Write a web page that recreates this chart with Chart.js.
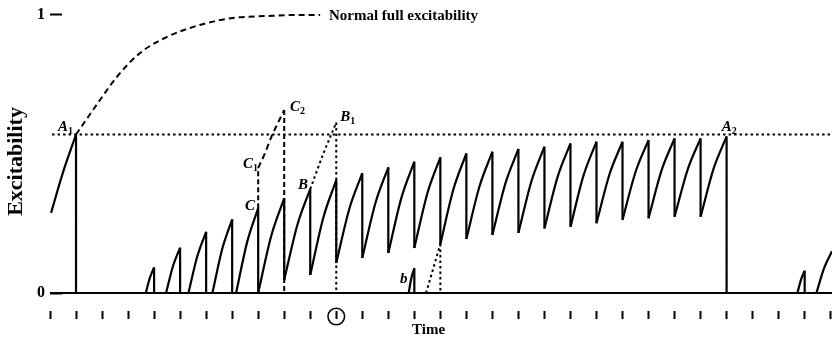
<!DOCTYPE html>
<html>
<head>
<meta charset="utf-8">
<script src="https://cdn.jsdelivr.net/npm/chart.js@4.4.1/dist/chart.umd.min.js"></script>
<style>
  html, body { margin: 0; padding: 0; background: #fff; }
</style>
</head>
<body>
<canvas id="chart" width="832" height="339"></canvas>
<script>
// time is counted in stimulus intervals (one tick each), excitability runs 0..1
const timeTicks = [0, 1, 2, 3, 4, 5, 6, 7, 8, 9, 10, 11, 12, 13, 14, 15, 16, 17, 18, 19, 20, 21, 22, 23, 24, 25, 26, 27, 28, 29, 30]
const levelTicks = [0, 1]

// solid recovery strokes: where each one starts, its level half way, the peak, and where the drop lands
const strokeStart = [0.04, 3.68, 4.46, 5.32, 6.24, 7.15, 8, 9, 10, 11, 12, 13, 14, 15, 16, 17, 18, 19, 20, 21, 22, 23, 24, 25, 13.78, 28.72, 29.45]
const strokeFrom  = [0.288, 0, 0, 0, 0, 0, 0, 0.047, 0.065, 0.108, 0.126, 0.144, 0.162, 0.176, 0.194, 0.209, 0.216, 0.232, 0.238, 0.251, 0.263, 0.269, 0.274, 0.274, 0, 0, 0]
const strokeMid   = [0.44, 0.055, 0.098, 0.132, 0.159, 0.183, 0.205, 0.243, 0.270, 0.302, 0.322, 0.341, 0.358, 0.372, 0.382, 0.394, 0.402, 0.416, 0.422, 0.427, 0.435, 0.441, 0.443, 0.447, 0.055, 0.048, 0.09]
const strokeEnd   = [1, 4, 5, 6, 7, 8, 9, 10, 11, 12, 13, 14, 15, 16, 17, 18, 19, 20, 21, 22, 23, 24, 25, 26, 14, 29, 30.05]
const strokePeak  = [0.57, 0.092, 0.163, 0.22, 0.265, 0.305, 0.341, 0.374, 0.406, 0.431, 0.452, 0.472, 0.488, 0.502, 0.508, 0.518, 0.526, 0.538, 0.544, 0.544, 0.55, 0.556, 0.556, 0.563, 0.089, 0.08, 0.15]
const strokeDrop  = [0, 0, 0, 0, 0, 0, 0.047, 0.065, 0.108, 0.126, 0.144, 0.162, 0.176, 0.194, 0.209, 0.216, 0.232, 0.238, 0.251, 0.263, 0.269, 0.274, 0.274, 0, 0, 0, null]

// normal full excitability (dashed) after A1
const normalTime  = [1, 1.92, 2.57, 3.46, 4.5, 5.76, 7.03, 8.34, 9.61, 10.38]
const normalLevel = [0.57, 0.694, 0.777, 0.863, 0.921, 0.964, 0.989, 0.996, 1, 1]

// level of A1 / A2
const aLevelTime = [0.08, 30.05]
const aLevel = 0.57

// C -> C1 -> C2 (dashed)
const cRiseTime = [8, 8]
const cRise = [0.305, 0.45]
const cTime = [8, 8.25, 8.5, 8.75, 9]
const cLevel = [0.45, 0.5, 0.56, 0.61, 0.658]
const cDropTime = [9, 9]
const cDrop = [0.658, 0]

// B -> B1 (dotted)
const bTime = [10, 10.5, 11]
const bLevel = [0.374, 0.5, 0.613]
const bDropTime = [11, 11]
const bDrop = [0.613, 0]

// after b (dotted)
const smallTime = [14.45, 15]
const smallLevel = [0, 0.176]
const smallDropTime = [15, 15]
const smallDrop = [0.176, 0]

const serif = '"Liberation Serif", "Times New Roman", serif'

const pointLabels = [
  { main: 'A', sub: '1', t: 0.31, v: 0.583 },
  { main: 'A', sub: '2', t: 25.81, v: 0.581 },
  { main: 'C', sub: '2', t: 9.22, v: 0.656 },
  { main: 'B', sub: '1', t: 11.15, v: 0.62 },
  { main: 'C', sub: '1', t: 7.42, v: 0.45 },
  { main: 'B', sub: '', t: 9.53, v: 0.374 },
  { main: 'C', sub: '', t: 7.49, v: 0.299 },
  { main: 'b', sub: '', t: 13.45, v: 0.036 }
]

const pairs = (xs, ys) => xs.map((x, i) => ({ x: x, y: ys[i] }))
const gap = (x) => ({ x: x, y: null })

const solidCurves = []
strokeStart.forEach((t0, i) => {
  const t1 = strokeEnd[i]
  solidCurves.push({ x: t0, y: strokeFrom[i] }, { x: (t0 + t1) / 2, y: strokeMid[i] }, { x: t1, y: strokePeak[i] }, gap(t1))
})

const solidLines = [{ x: 0, y: 0 }, { x: 30.05, y: 0 }, gap(30.05)]
strokeEnd.forEach((t, i) => {
  if (strokeDrop[i] === null) return
  solidLines.push({ x: t, y: strokePeak[i] }, { x: t, y: strokeDrop[i] }, gap(t))
})

const dashedCurves = [...pairs(normalTime, normalLevel), gap(10.38), ...pairs(cTime, cLevel)]
const dashedLines = [...pairs(cRiseTime, cRise), gap(8), ...pairs(cDropTime, cDrop)]
const dottedCurves = [...pairs(aLevelTime, [aLevel, aLevel]), gap(30.05), ...pairs(bTime, bLevel), gap(11), ...pairs(smallTime, smallLevel)]
const dottedLines = [...pairs(bDropTime, bDrop), gap(11), ...pairs(smallDropTime, smallDrop)]

const line = (data, extra) => Object.assign({
  data: data,
  borderColor: '#000',
  borderWidth: 2,
  pointRadius: 0,
  fill: false,
  tension: 0
}, extra)

// no extra room for tick labels, the plot area is set by hand
const noPadding = (s) => {
  s.paddingTop = 0
  s.paddingBottom = 0
  s.paddingLeft = 0
  s.paddingRight = 0
}

const notes = {
  id: 'notes',
  afterDraw(chart) {
    const { ctx, chartArea } = chart
    const x = chart.scales.x
    const y = chart.scales.y
    ctx.save()
    ctx.fillStyle = '#000'
    ctx.textBaseline = 'alphabetic'
    ctx.textAlign = 'left'
    pointLabels.forEach(n => {
      const px = x.getPixelForValue(n.t)
      const py = y.getPixelForValue(n.v)
      ctx.font = 'italic bold 15px ' + serif
      ctx.fillText(n.main, px, py)
      if (n.sub) {
        const w = ctx.measureText(n.main).width
        ctx.font = 'bold 10px ' + serif
        ctx.fillText(n.sub, px + w, py + 3)
      }
    })

    ctx.font = 'bold 15px ' + serif
    ctx.fillText('Normal full excitability', x.getPixelForValue(10.72), y.getPixelForValue(0.98))

    ctx.textAlign = 'center'
    ctx.fillText('Time', x.getPixelForValue(14.55), y.getPixelForValue(-0.147))

    // y axis title
    ctx.save()
    ctx.translate(16, y.getPixelForValue(0.473))
    ctx.rotate(-Math.PI / 2)
    ctx.textBaseline = 'middle'
    ctx.font = 'bold 22px ' + serif
    ctx.fillText('Excitability', 0, 0)
    ctx.restore()

    // circled tick
    ctx.beginPath()
    ctx.lineWidth = 1.5
    ctx.strokeStyle = '#000'
    ctx.arc(x.getPixelForValue(11), chartArea.bottom + 5.5, 8.3, 0, Math.PI * 2)
    ctx.stroke()
    ctx.restore()
  }
}

new Chart(document.getElementById('chart'), {
  type: 'line',
  data: {
    datasets: [
      line(solidCurves, { cubicInterpolationMode: 'monotone', borderWidth: 2.2 }),
      line(solidLines, { borderWidth: 2.2 }),
      line(dashedCurves, { cubicInterpolationMode: 'monotone', borderDash: [6, 4] }),
      line(dashedLines, { borderDash: [5, 3] }),
      line(dottedCurves, { cubicInterpolationMode: 'monotone', borderDash: [2.5, 3] }),
      line(dottedLines, { borderDash: [2.5, 3] })
    ]
  },
  options: {
    responsive: false,
    animation: false,
    events: [],
    layout: { padding: { top: 1, right: 0, bottom: 0, left: 0 } },
    plugins: {
      legend: { display: false },
      tooltip: { enabled: false }
    },
    scales: {
      x: {
        type: 'linear',
        min: 0,
        max: 30.05,
        afterBuildTicks: (s) => { s.ticks = timeTicks.map(v => ({ value: v })) },
        afterFit: (s) => { s.height = 28; noPadding(s) },
        ticks: { callback: () => '', autoSkip: false, maxRotation: 0 },
        grid: { drawOnChartArea: false, drawTicks: true, tickLength: 8, tickWidth: 2, tickColor: '#000' },
        border: { display: false }
      },
      y: {
        type: 'linear',
        min: -0.0647,
        max: 1.05,
        afterBuildTicks: (s) => { s.ticks = levelTicks.map(v => ({ value: v })) },
        afterFit: (s) => { s.width = 50; noPadding(s) },
        ticks: {
          callback: (v) => String(v),
          color: '#000',
          padding: 17,
          font: { family: serif, weight: 'bold', size: 16 }
        },
        grid: { drawOnChartArea: false, drawTicks: true, tickLength: -12, tickWidth: 2, tickColor: '#000' },
        border: { display: false }
      }
    }
  },
  plugins: [notes]
})
</script>
</body>
</html>
